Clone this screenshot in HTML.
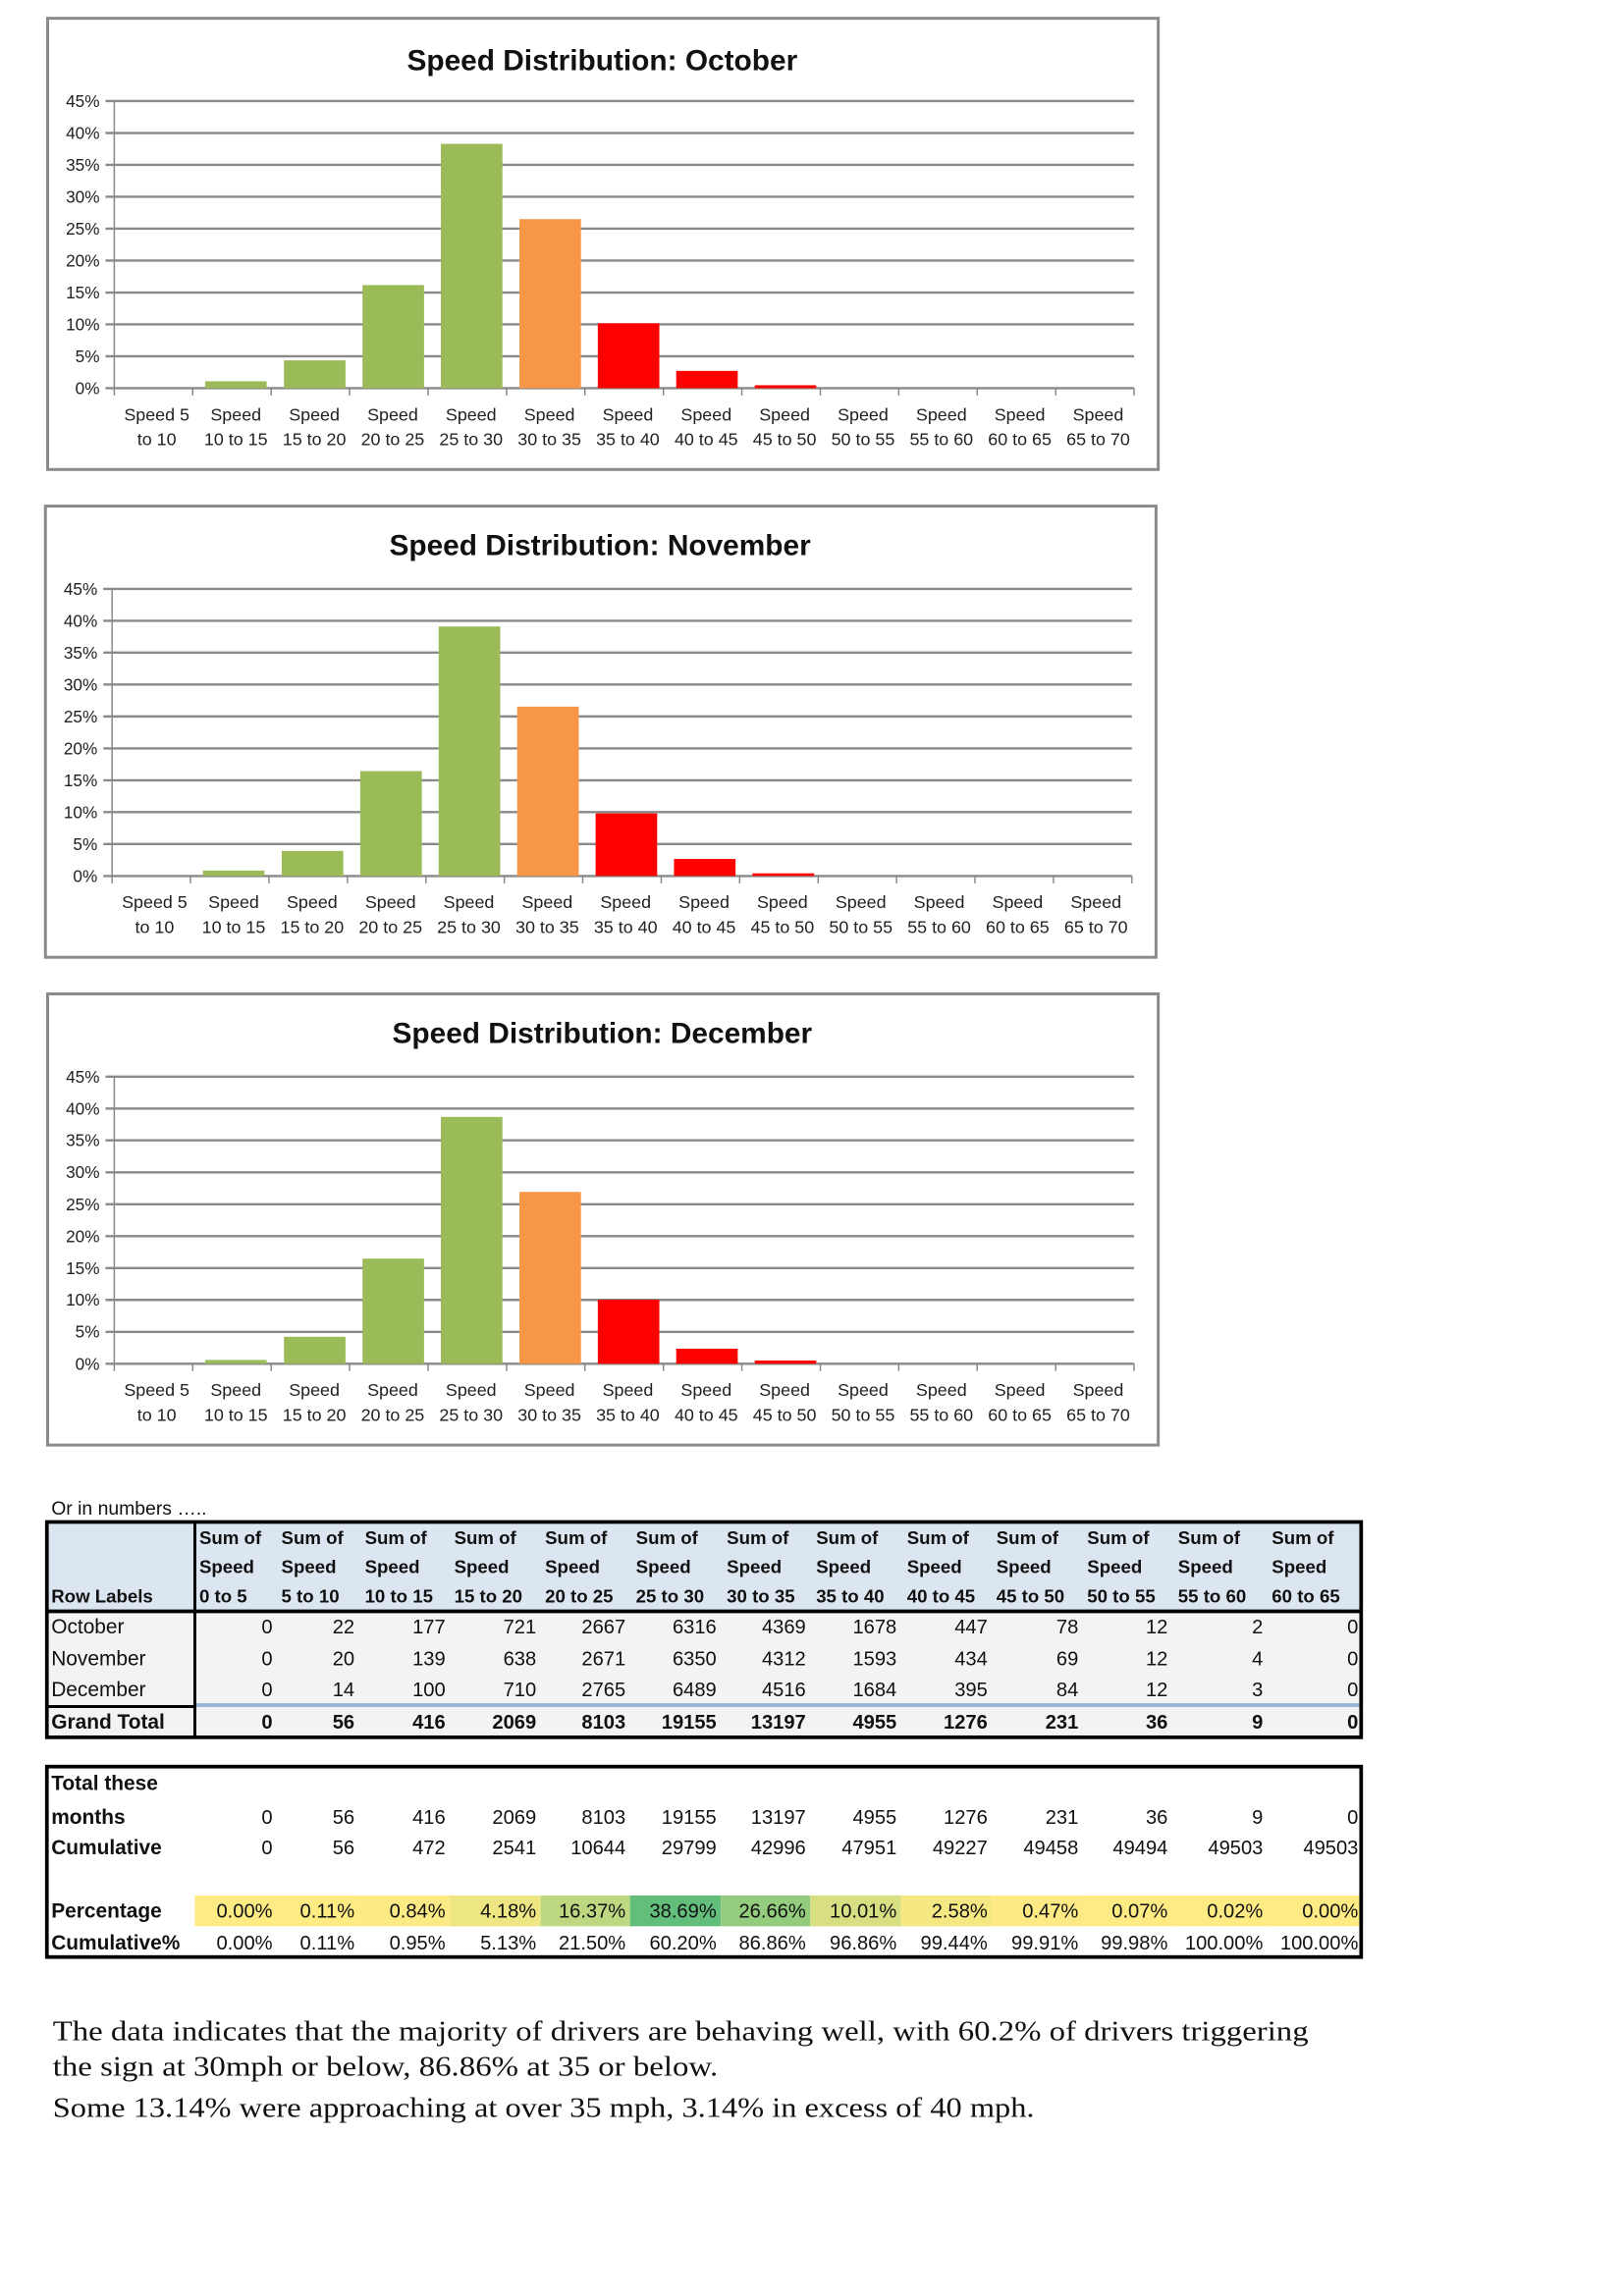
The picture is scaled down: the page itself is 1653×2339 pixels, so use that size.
<!DOCTYPE html>
<html><head><meta charset="utf-8"><style>
html,body{margin:0;padding:0;background:#fff;}
svg{display:block;}
.yl{font:11.5px "Liberation Sans",sans-serif;fill:#222;text-anchor:end}
.xl{font:12px "Liberation Sans",sans-serif;fill:#222;text-anchor:middle}
.tt{font:bold 20px "Liberation Sans",sans-serif;fill:#111;text-anchor:middle}
.g{stroke:#8a8a8a;stroke-width:1.6}
.h{font:bold 12.5px "Liberation Sans",sans-serif;fill:#111}
.n{font:13.5px "Liberation Sans",sans-serif;fill:#111;text-anchor:end}
.nb{font:bold 13.5px "Liberation Sans",sans-serif;fill:#111;text-anchor:end}
.rl{font:14px "Liberation Sans",sans-serif;fill:#111}
.rb{font:bold 14px "Liberation Sans",sans-serif;fill:#111}
.p{font:19px "Liberation Serif",serif;fill:#111}
</style></head><body>
<svg width="1653" height="2339" viewBox="0 0 1107.7 1567.4" preserveAspectRatio="xMinYMin meet" xmlns="http://www.w3.org/2000/svg">
<defs>
<g id="frame">
<rect x="32.5" y="12.5" width="758" height="308" fill="#fff" stroke="#8a8a8a" stroke-width="2"/>
<g class="g">
<line x1="72" y1="265" x2="774" y2="265"/><line x1="72" y1="243.2" x2="774" y2="243.2"/><line x1="72" y1="221.4" x2="774" y2="221.4"/><line x1="72" y1="199.7" x2="774" y2="199.7"/><line x1="72" y1="177.9" x2="774" y2="177.9"/><line x1="72" y1="156.1" x2="774" y2="156.1"/><line x1="72" y1="134.3" x2="774" y2="134.3"/><line x1="72" y1="112.5" x2="774" y2="112.5"/><line x1="72" y1="90.8" x2="774" y2="90.8"/><line x1="72" y1="69" x2="774" y2="69"/>
<line x1="78" y1="69" x2="78" y2="270" stroke-width="1"/>
<line x1="131.5" y1="265" x2="131.5" y2="270" stroke-width="1"/><line x1="185.1" y1="265" x2="185.1" y2="270" stroke-width="1"/><line x1="238.6" y1="265" x2="238.6" y2="270" stroke-width="1"/><line x1="292.2" y1="265" x2="292.2" y2="270" stroke-width="1"/><line x1="345.7" y1="265" x2="345.7" y2="270" stroke-width="1"/><line x1="399.2" y1="265" x2="399.2" y2="270" stroke-width="1"/><line x1="452.8" y1="265" x2="452.8" y2="270" stroke-width="1"/><line x1="506.3" y1="265" x2="506.3" y2="270" stroke-width="1"/><line x1="559.9" y1="265" x2="559.9" y2="270" stroke-width="1"/><line x1="613.4" y1="265" x2="613.4" y2="270" stroke-width="1"/><line x1="666.9" y1="265" x2="666.9" y2="270" stroke-width="1"/><line x1="720.5" y1="265" x2="720.5" y2="270" stroke-width="1"/><line x1="774" y1="265" x2="774" y2="270" stroke-width="1"/>
</g>
<text class="yl" x="68" y="269">0%</text><text class="yl" x="68" y="247.2">5%</text><text class="yl" x="68" y="225.4">10%</text><text class="yl" x="68" y="203.7">15%</text><text class="yl" x="68" y="181.9">20%</text><text class="yl" x="68" y="160.1">25%</text><text class="yl" x="68" y="138.3">30%</text><text class="yl" x="68" y="116.5">35%</text><text class="yl" x="68" y="94.8">40%</text><text class="yl" x="68" y="73">45%</text>
<text class="xl" x="107" y="287">Speed 5</text><text class="xl" x="107" y="304">to 10</text>
<text class="xl" x="161" y="287">Speed</text><text class="xl" x="161" y="304">10 to 15</text>
<text class="xl" x="214.5" y="287">Speed</text><text class="xl" x="214.5" y="304">15 to 20</text>
<text class="xl" x="268" y="287">Speed</text><text class="xl" x="268" y="304">20 to 25</text>
<text class="xl" x="321.5" y="287">Speed</text><text class="xl" x="321.5" y="304">25 to 30</text>
<text class="xl" x="375" y="287">Speed</text><text class="xl" x="375" y="304">30 to 35</text>
<text class="xl" x="428.5" y="287">Speed</text><text class="xl" x="428.5" y="304">35 to 40</text>
<text class="xl" x="482" y="287">Speed</text><text class="xl" x="482" y="304">40 to 45</text>
<text class="xl" x="535.5" y="287">Speed</text><text class="xl" x="535.5" y="304">45 to 50</text>
<text class="xl" x="589" y="287">Speed</text><text class="xl" x="589" y="304">50 to 55</text>
<text class="xl" x="642.5" y="287">Speed</text><text class="xl" x="642.5" y="304">55 to 60</text>
<text class="xl" x="696" y="287">Speed</text><text class="xl" x="696" y="304">60 to 65</text>
<text class="xl" x="749.5" y="287">Speed</text><text class="xl" x="749.5" y="304">65 to 70</text>
</g>
</defs>

<!-- October -->
<g>
<use href="#frame"/>
<text class="tt" x="411" y="48">Speed Distribution: October</text>
<rect x="140" y="260.3" width="42" height="4.7" fill="#9BBB59"/>
<rect x="193.8" y="246" width="42" height="19" fill="#9BBB59"/>
<rect x="247.4" y="194.6" width="42" height="70.4" fill="#9BBB59"/>
<rect x="300.9" y="98.2" width="42" height="166.8" fill="#9BBB59"/>
<rect x="354.5" y="149.6" width="42" height="115.4" fill="#F79646"/>
<rect x="408" y="220.7" width="42" height="44.3" fill="#FF0000"/>
<rect x="461.5" y="253.2" width="42" height="11.8" fill="#FF0000"/>
<rect x="515.1" y="263" width="42" height="2" fill="#FF0000"/>
</g>

<!-- November -->
<g transform="translate(-1.5,333)">
<use href="#frame"/>
<text class="tt" x="411" y="46">Speed Distribution: November</text>
<rect x="140" y="261.3" width="42" height="3.7" fill="#9BBB59"/>
<rect x="193.8" y="247.9" width="42" height="17.1" fill="#9BBB59"/>
<rect x="247.4" y="193.4" width="42" height="71.6" fill="#9BBB59"/>
<rect x="300.9" y="94.7" width="42" height="170.3" fill="#9BBB59"/>
<rect x="354.5" y="149.4" width="42" height="115.6" fill="#F79646"/>
<rect x="408" y="222.3" width="42" height="42.7" fill="#FF0000"/>
<rect x="461.5" y="253.4" width="42" height="11.6" fill="#FF0000"/>
<rect x="515.1" y="263.2" width="42" height="1.8" fill="#FF0000"/>
</g>

<!-- December -->
<g transform="translate(0,666)">
<use href="#frame"/>
<text class="tt" x="411" y="46">Speed Distribution: December</text>
<rect x="140" y="262.4" width="42" height="2.6" fill="#9BBB59"/>
<rect x="193.8" y="246.6" width="42" height="18.4" fill="#9BBB59"/>
<rect x="247.4" y="193.2" width="42" height="71.8" fill="#9BBB59"/>
<rect x="300.9" y="96.5" width="42" height="168.5" fill="#9BBB59"/>
<rect x="354.5" y="147.7" width="42" height="117.3" fill="#F79646"/>
<rect x="408" y="221.3" width="42" height="43.7" fill="#FF0000"/>
<rect x="461.5" y="254.7" width="42" height="10.3" fill="#FF0000"/>
<rect x="515.1" y="262.8" width="42" height="2.2" fill="#FF0000"/>
</g>

<text class="rl" x="35" y="1034" style="font-size:13px">Or in numbers …..</text>

<!-- Table 1 -->
<rect x="32" y="1039" width="897" height="61" fill="#DCE6F1"/>
<rect x="32" y="1101" width="897" height="85" fill="#F3F3F3"/>
<line x1="133" y1="1164" x2="929" y2="1164" stroke="#95B3D7" stroke-width="2.5"/>
<line x1="32" y1="1100" x2="929" y2="1100" stroke="#000" stroke-width="2.5"/>
<line x1="32" y1="1165" x2="133" y2="1165" stroke="#000" stroke-width="2"/>
<line x1="133" y1="1039" x2="133" y2="1186" stroke="#000" stroke-width="2"/>
<rect x="32" y="1039" width="897" height="147" fill="none" stroke="#000" stroke-width="2.5"/>
<g class="h">
<text x="136" y="1054">Sum of</text><text x="192" y="1054">Sum of</text><text x="249" y="1054">Sum of</text><text x="310" y="1054">Sum of</text><text x="372" y="1054">Sum of</text><text x="434" y="1054">Sum of</text><text x="496" y="1054">Sum of</text><text x="557" y="1054">Sum of</text><text x="619" y="1054">Sum of</text><text x="680" y="1054">Sum of</text><text x="742" y="1054">Sum of</text><text x="804" y="1054">Sum of</text><text x="868" y="1054">Sum of</text>
<text x="136" y="1074">Speed</text><text x="192" y="1074">Speed</text><text x="249" y="1074">Speed</text><text x="310" y="1074">Speed</text><text x="372" y="1074">Speed</text><text x="434" y="1074">Speed</text><text x="496" y="1074">Speed</text><text x="557" y="1074">Speed</text><text x="619" y="1074">Speed</text><text x="680" y="1074">Speed</text><text x="742" y="1074">Speed</text><text x="804" y="1074">Speed</text><text x="868" y="1074">Speed</text>
<text x="35" y="1094">Row Labels</text>
<text x="136" y="1094">0 to 5</text><text x="192" y="1094">5 to 10</text><text x="249" y="1094">10 to 15</text><text x="310" y="1094">15 to 20</text><text x="372" y="1094">20 to 25</text><text x="434" y="1094">25 to 30</text><text x="496" y="1094">30 to 35</text><text x="557" y="1094">35 to 40</text><text x="619" y="1094">40 to 45</text><text x="680" y="1094">45 to 50</text><text x="742" y="1094">50 to 55</text><text x="804" y="1094">55 to 60</text><text x="868" y="1094">60 to 65</text>
</g>
<text class="rl" x="35" y="1115">October</text><text class="rl" x="35" y="1137">November</text><text class="rl" x="35" y="1158">December</text><text class="rb" x="35" y="1180">Grand Total</text>
<g class="n">
<text x="186" y="1115">0</text><text x="242" y="1115">22</text><text x="304" y="1115">177</text><text x="366" y="1115">721</text><text x="427" y="1115">2667</text><text x="489" y="1115">6316</text><text x="550" y="1115">4369</text><text x="612" y="1115">1678</text><text x="674" y="1115">447</text><text x="736" y="1115">78</text><text x="797" y="1115">12</text><text x="862" y="1115">2</text><text x="927" y="1115">0</text>
<text x="186" y="1137">0</text><text x="242" y="1137">20</text><text x="304" y="1137">139</text><text x="366" y="1137">638</text><text x="427" y="1137">2671</text><text x="489" y="1137">6350</text><text x="550" y="1137">4312</text><text x="612" y="1137">1593</text><text x="674" y="1137">434</text><text x="736" y="1137">69</text><text x="797" y="1137">12</text><text x="862" y="1137">4</text><text x="927" y="1137">0</text>
<text x="186" y="1158">0</text><text x="242" y="1158">14</text><text x="304" y="1158">100</text><text x="366" y="1158">710</text><text x="427" y="1158">2765</text><text x="489" y="1158">6489</text><text x="550" y="1158">4516</text><text x="612" y="1158">1684</text><text x="674" y="1158">395</text><text x="736" y="1158">84</text><text x="797" y="1158">12</text><text x="862" y="1158">3</text><text x="927" y="1158">0</text>
</g>
<g class="nb">
<text x="186" y="1180">0</text><text x="242" y="1180">56</text><text x="304" y="1180">416</text><text x="366" y="1180">2069</text><text x="427" y="1180">8103</text><text x="489" y="1180">19155</text><text x="550" y="1180">13197</text><text x="612" y="1180">4955</text><text x="674" y="1180">1276</text><text x="736" y="1180">231</text><text x="797" y="1180">36</text><text x="862" y="1180">9</text><text x="927" y="1180">0</text>
</g>

<!-- Table 2 -->
<g>
<rect x="133" y="1294" width="56" height="21" fill="#FFEB84"/>
<rect x="189" y="1294" width="56" height="21" fill="#FFEB84"/>
<rect x="245" y="1294" width="62" height="21" fill="#FCEA84"/>
<rect x="307" y="1294" width="62" height="21" fill="#EEE683"/>
<rect x="369" y="1294" width="61" height="21" fill="#BDD880"/>
<rect x="430" y="1294" width="62" height="21" fill="#63BE7B"/>
<rect x="492" y="1294" width="61" height="21" fill="#94CC7E"/>
<rect x="553" y="1294" width="62" height="21" fill="#D7DF82"/>
<rect x="615" y="1294" width="62" height="21" fill="#F5E883"/>
<rect x="677" y="1294" width="62" height="21" fill="#FDEA84"/>
<rect x="739" y="1294" width="61" height="21" fill="#FFEB84"/>
<rect x="800" y="1294" width="65" height="21" fill="#FFEB84"/>
<rect x="865" y="1294" width="64" height="21" fill="#FFEB84"/>
</g>
<rect x="32" y="1206" width="897" height="130" fill="none" stroke="#000" stroke-width="2.5"/>
<text class="rb" x="35" y="1222">Total these</text><text class="rb" x="35" y="1245">months</text><text class="rb" x="35" y="1266">Cumulative</text><text class="rb" x="35" y="1309">Percentage</text><text class="rb" x="35" y="1331">Cumulative%</text>
<g class="n">
<text x="186" y="1245">0</text><text x="242" y="1245">56</text><text x="304" y="1245">416</text><text x="366" y="1245">2069</text><text x="427" y="1245">8103</text><text x="489" y="1245">19155</text><text x="550" y="1245">13197</text><text x="612" y="1245">4955</text><text x="674" y="1245">1276</text><text x="736" y="1245">231</text><text x="797" y="1245">36</text><text x="862" y="1245">9</text><text x="927" y="1245">0</text>
<text x="186" y="1266">0</text><text x="242" y="1266">56</text><text x="304" y="1266">472</text><text x="366" y="1266">2541</text><text x="427" y="1266">10644</text><text x="489" y="1266">29799</text><text x="550" y="1266">42996</text><text x="612" y="1266">47951</text><text x="674" y="1266">49227</text><text x="736" y="1266">49458</text><text x="797" y="1266">49494</text><text x="862" y="1266">49503</text><text x="927" y="1266">49503</text>
<text x="186" y="1309">0.00%</text><text x="242" y="1309">0.11%</text><text x="304" y="1309">0.84%</text><text x="366" y="1309">4.18%</text><text x="427" y="1309">16.37%</text><text x="489" y="1309">38.69%</text><text x="550" y="1309">26.66%</text><text x="612" y="1309">10.01%</text><text x="674" y="1309">2.58%</text><text x="736" y="1309">0.47%</text><text x="797" y="1309">0.07%</text><text x="862" y="1309">0.02%</text><text x="927" y="1309">0.00%</text>
<text x="186" y="1331">0.00%</text><text x="242" y="1331">0.11%</text><text x="304" y="1331">0.95%</text><text x="366" y="1331">5.13%</text><text x="427" y="1331">21.50%</text><text x="489" y="1331">60.20%</text><text x="550" y="1331">86.86%</text><text x="612" y="1331">96.86%</text><text x="674" y="1331">99.44%</text><text x="736" y="1331">99.91%</text><text x="797" y="1331">99.98%</text><text x="862" y="1331">100.00%</text><text x="927" y="1331">100.00%</text>
</g>

<text class="p" x="36" y="1393" textLength="857" lengthAdjust="spacingAndGlyphs">The data indicates that the majority of drivers are behaving well, with 60.2% of drivers triggering</text>
<text class="p" x="36" y="1417" textLength="454" lengthAdjust="spacingAndGlyphs">the sign at 30mph or below, 86.86% at 35 or below.</text>
<text class="p" x="36" y="1445" textLength="670" lengthAdjust="spacingAndGlyphs">Some 13.14% were approaching at over 35 mph, 3.14%  in excess of 40 mph.</text>
</svg>
</body></html>
